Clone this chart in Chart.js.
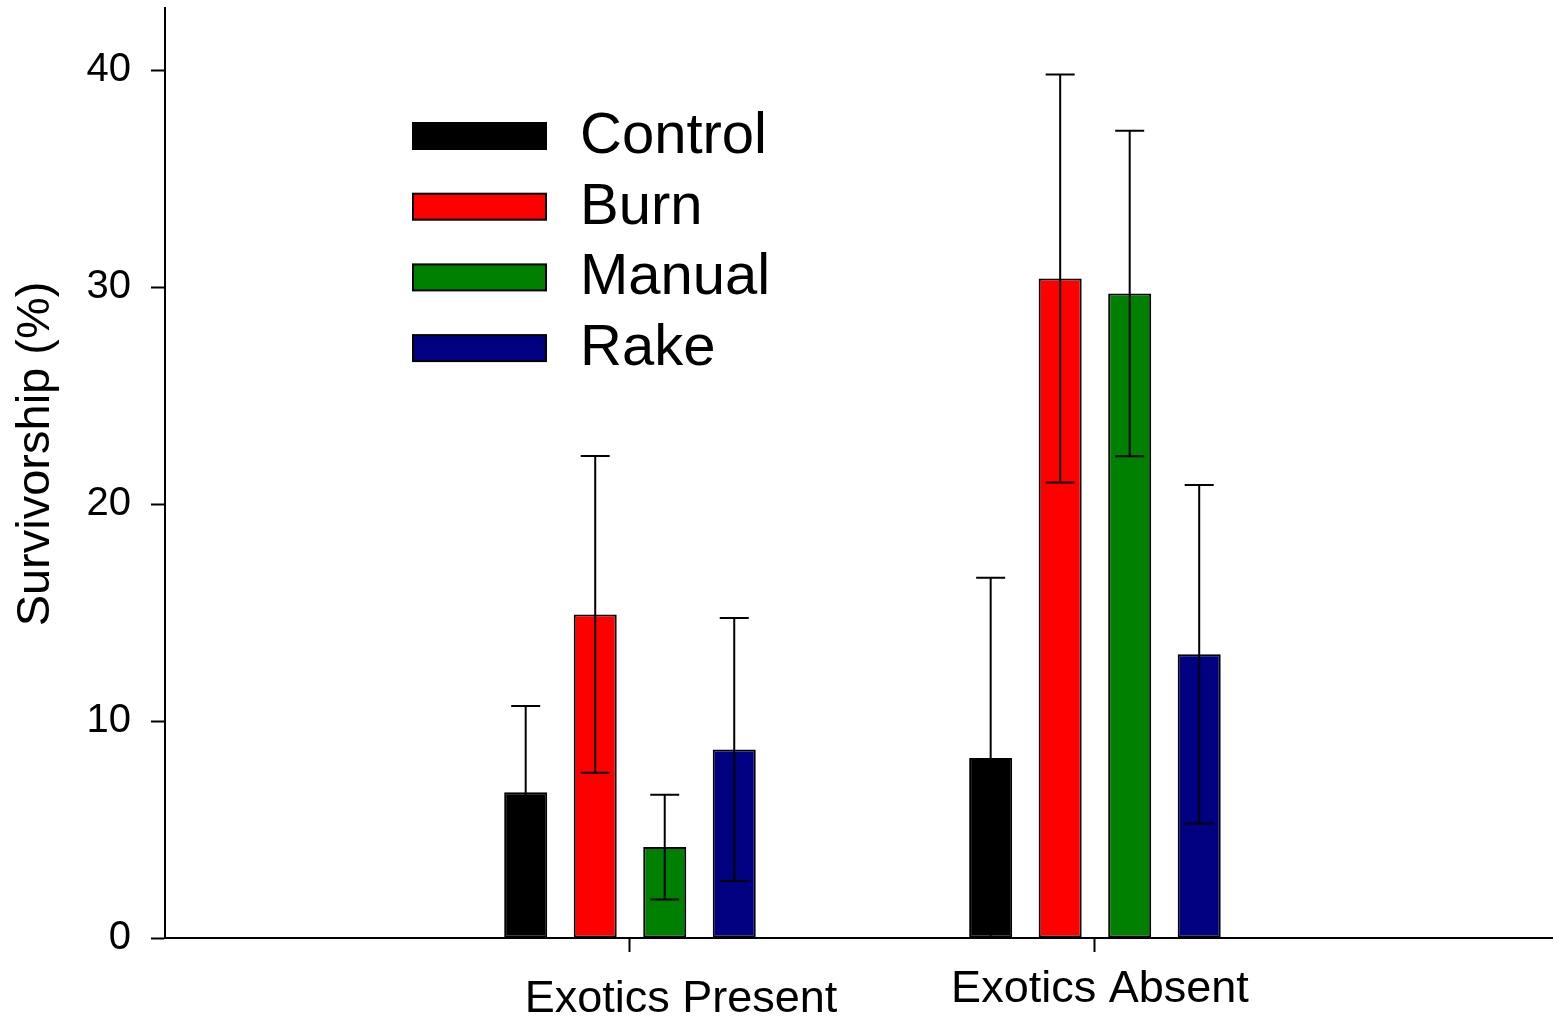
<!DOCTYPE html>
<html>
<head>
<meta charset="utf-8">
<script src="https://cdn.jsdelivr.net/npm/chart.js@4"></script>
<style>
  body { margin: 0; background: #fff; }
</style>
</head>
<body>
<canvas id="graficoSobrevivencia" width="1554" height="1020"></canvas>
<script>
const groups = ['Exotics Present', 'Exotics Absent'];
const treatments = ['Control', 'Burn', 'Manual', 'Rake'];
const colors = ['#000000', '#ff0000', '#008000', '#000080'];

// mean survivorship (%) per treatment, one value per group
const control = [6.72, 8.30];
const burn = [14.91, 30.39];
const manual = [4.19, 29.70];
const rake = [8.69, 13.08];

// standard errors
const controlErr = [3.97, 8.30];
const burnErr = [7.30, 9.40];
const manualErr = [2.41, 7.50];
const rakeErr = [6.06, 7.80];

const yTicks = [0, 10, 20, 30, 40];

const means = [control, burn, manual, rake];
const errors = [controlErr, burnErr, manualErr, rakeErr];
const FONT = '"Liberation Sans", Arial, sans-serif';

const errorBars = {
  id: 'errorBars',
  afterDatasetsDraw(chart) {
    const { ctx, scales: { y } } = chart;
    ctx.save();
    ctx.strokeStyle = '#000';
    ctx.lineWidth = 2;
    means.forEach((serie, d) => {
      chart.getDatasetMeta(d).data.forEach((bar, i) => {
        const top = y.getPixelForValue(serie[i] + errors[d][i]);
        const bottom = y.getPixelForValue(serie[i] - errors[d][i]);
        ctx.beginPath();
        ctx.moveTo(bar.x, top);
        ctx.lineTo(bar.x, bottom);
        ctx.moveTo(bar.x - 14.5, top);
        ctx.lineTo(bar.x + 14.5, top);
        ctx.moveTo(bar.x - 14.5, bottom);
        ctx.lineTo(bar.x + 14.5, bottom);
        ctx.stroke();
      });
    });
    ctx.restore();
  }
};

const texts = {
  id: 'texts',
  afterDraw(chart) {
    const { ctx, scales: { x } } = chart;
    ctx.save();
    ctx.fillStyle = '#000';

    // group names under the axis ticks
    ctx.font = '45px ' + FONT;
    ctx.textAlign = 'center';
    ctx.textBaseline = 'middle';
    const shift = [[51, 1000], [5, 990]];
    groups.forEach((g, i) => {
      ctx.fillText(g, x.getPixelForValue(i + 1) + shift[i][0], shift[i][1]);
    });

    // y axis title
    ctx.save();
    ctx.translate(36, 454);
    ctx.rotate(-Math.PI / 2);
    ctx.font = '47px ' + FONT;
    ctx.fillText('Survivorship (%)', 0, 0);
    ctx.restore();

    // legend
    ctx.font = '58px ' + FONT;
    ctx.textAlign = 'left';
    ctx.lineWidth = 2;
    ctx.strokeStyle = '#000';
    treatments.forEach((t, i) => {
      const top = 123 + i * 70.7;
      ctx.fillStyle = colors[i];
      ctx.fillRect(413, top, 133, 26);
      ctx.strokeRect(413, top, 133, 26);
      ctx.fillStyle = '#000';
      ctx.fillText(t, 580, top + 14);
    });
    ctx.restore();
  }
};

const datasets = treatments.map((t, d) => ({
  label: t,
  data: means[d].map((v, i) => ({ x: i + 1, y: v })),
  backgroundColor: colors[d],
  borderColor: '#000',
  borderWidth: 2,
  borderSkipped: false,
  categoryPercentage: 0.598,
  barPercentage: 0.619
}));

new Chart(document.getElementById('graficoSobrevivencia'), {
  type: 'bar',
  data: { datasets },
  options: {
    responsive: false,
    devicePixelRatio: 1,
    animation: false,
    layout: { padding: { top: 8, right: 2, left: 0, bottom: 0 } },
    plugins: {
      legend: { display: false },
      tooltip: { enabled: false }
    },
    scales: {
      x: {
        type: 'linear',
        min: 0,
        max: 2.983,
        offset: false,
        afterBuildTicks: (scale) => {
          scale.ticks = groups.map((g, i) => ({ value: i + 1 }));
        },
        afterFit: (scale) => {
          scale.height = 82;
          scale.paddingLeft = 0;
          scale.paddingRight = 0;
        },
        ticks: { display: false },
        grid: {
          offset: false,
          drawOnChartArea: false,
          tickLength: 14,
          tickColor: '#000',
          tickWidth: 2
        },
        border: { color: '#000', width: 2 }
      },
      y: {
        min: 0,
        max: 42.86,
        afterBuildTicks: (scale) => {
          scale.ticks = yTicks.map(v => ({ value: v }));
        },
        afterFit: (scale) => {
          scale.width = 165;
          scale.paddingTop = 0;
          scale.paddingBottom = 0;
        },
        ticks: {
          color: '#000',
          padding: 20,
          font: { family: FONT, size: 40 }
        },
        grid: {
          drawOnChartArea: false,
          tickLength: 14,
          tickColor: '#000',
          tickWidth: 2
        },
        border: { color: '#000', width: 2 }
      }
    }
  },
  plugins: [errorBars, texts]
});
</script>
</body>
</html>
